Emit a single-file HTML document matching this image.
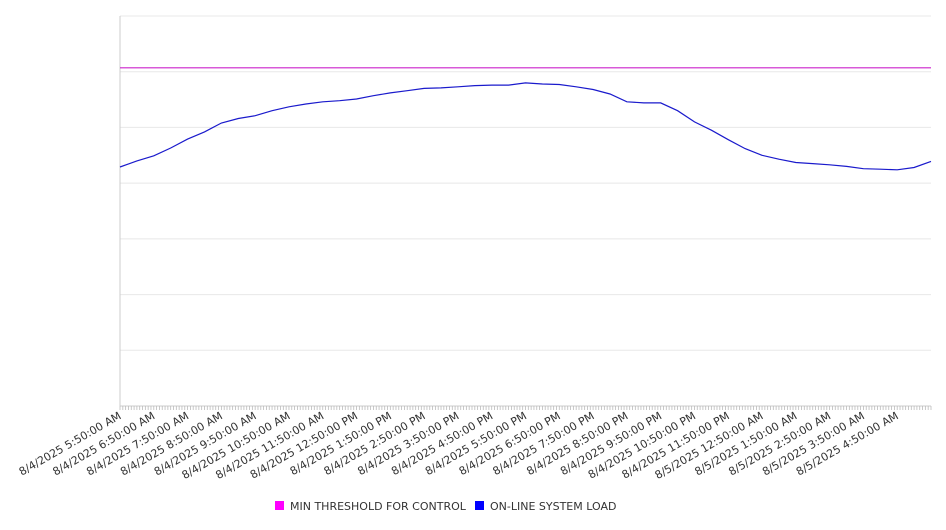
<!DOCTYPE html>
<html><head><meta charset="utf-8"><style>
body{margin:0;background:#fff;font-family:"DejaVu Sans","Liberation Sans",sans-serif;}
svg text{font-family:"DejaVu Sans","Liberation Sans",sans-serif;}
</style></head><body>
<svg id="chart" width="946" height="526" xmlns="http://www.w3.org/2000/svg">
<g id="grid"></g>
<g id="axes"></g>
<g id="series"></g>
<g id="xlabels"></g>
<g>
<rect x="275" y="501" width="9" height="9" fill="#ff00ff"/>
<text x="290" y="510" font-size="11" fill="#333">MIN THRESHOLD FOR CONTROL</text>
<rect x="475" y="501" width="9" height="9" fill="#0000ff"/>
<text x="490" y="510" font-size="11" fill="#333">ON-LINE SYSTEM LOAD</text>
</g>
</svg>
<script>
const tickLabels=["8/4/2025 5:50:00 AM","8/4/2025 6:50:00 AM","8/4/2025 7:50:00 AM","8/4/2025 8:50:00 AM","8/4/2025 9:50:00 AM","8/4/2025 10:50:00 AM","8/4/2025 11:50:00 AM","8/4/2025 12:50:00 PM","8/4/2025 1:50:00 PM","8/4/2025 2:50:00 PM","8/4/2025 3:50:00 PM","8/4/2025 4:50:00 PM","8/4/2025 5:50:00 PM","8/4/2025 6:50:00 PM","8/4/2025 7:50:00 PM","8/4/2025 8:50:00 PM","8/4/2025 9:50:00 PM","8/4/2025 10:50:00 PM","8/4/2025 11:50:00 PM","8/5/2025 12:50:00 AM","8/5/2025 1:50:00 AM","8/5/2025 2:50:00 AM","8/5/2025 3:50:00 AM","8/5/2025 4:50:00 AM"];
// hours since start, half-hourly
const loadHours=[0,0.5,1,1.5,2,2.5,3,3.5,4,4.5,5,5.5,6,6.5,7,7.5,8,8.5,9,9.5,10,10.5,11,11.5,12,12.5,13,13.5,14,14.5,15,15.5,16,16.5,17,17.5,18,18.5,19,19.5,20,20.5,21,21.5,22,22.5,23,23.5,24];
const loadValues=[4.29,4.4,4.49,4.63,4.79,4.92,5.08,5.16,5.21,5.3,5.37,5.42,5.46,5.48,5.51,5.57,5.62,5.66,5.7,5.71,5.73,5.75,5.76,5.76,5.8,5.78,5.77,5.73,5.68,5.6,5.46,5.44,5.44,5.3,5.1,4.95,4.78,4.62,4.5,4.43,4.37,4.35,4.33,4.3,4.26,4.25,4.24,4.28,4.39];
const thresholdValue=[6.07];
const yTicks=[0,1,2,3,4,5,6,7];
const X0=120,X1=931,Y0=406,Y1=16,XMAX=24,YMAX=7;
const xs=h=>X0+(X1-X0)*h/XMAX;
const ys=v=>Y0-(Y0-Y1)*v/YMAX;
const NS="http://www.w3.org/2000/svg";
function mk(t,a,p){const e=document.createElementNS(NS,t);for(const k in a)e.setAttribute(k,a[k]);p.appendChild(e);return e;}
const grid=document.getElementById('grid'),axes=document.getElementById('axes'),ser=document.getElementById('series'),xl=document.getElementById('xlabels');
yTicks.forEach(v=>{if(v===0)return;const l=mk('line',{x1:X0,x2:X1,y1:ys(v),y2:ys(v),stroke:'#e8e8e8','stroke-width':1},grid);

});
const ya=mk('line',{x1:X0,x2:X0,y1:Y1,y2:Y0,stroke:'#ccc'},axes);


const xa=mk('line',{x1:X0,x2:X1,y1:Y0,y2:Y0,stroke:'#ccc'},axes);


for(let m=0;m<=XMAX*12;m++){const x=xs(m/12);const t=mk('line',{x1:x,x2:x,y1:Y0,y2:Y0+4,stroke:'#bbb','stroke-width':0.8},axes);

}
tickLabels.forEach((s,i)=>{const x=xs(i)+2,y=Y0+12;const t=mk('text',{x:x,y:y,'text-anchor':'end','font-size':11,fill:'#333',transform:`rotate(-30 ${x} ${y})`},xl);t.textContent=s;

});
const th=mk('line',{x1:X0,x2:X1,y1:ys(thresholdValue[0]),y2:ys(thresholdValue[0]),stroke:'#cc22cc','stroke-width':1.2},ser);


const pts=loadHours.map((h,i)=>xs(h).toFixed(1)+','+ys(loadValues[i]).toFixed(1)).join(' ');
const pl=mk('polyline',{points:pts,fill:'none',stroke:'#1a1acc','stroke-width':1.2},ser);


</script>
</body></html>
